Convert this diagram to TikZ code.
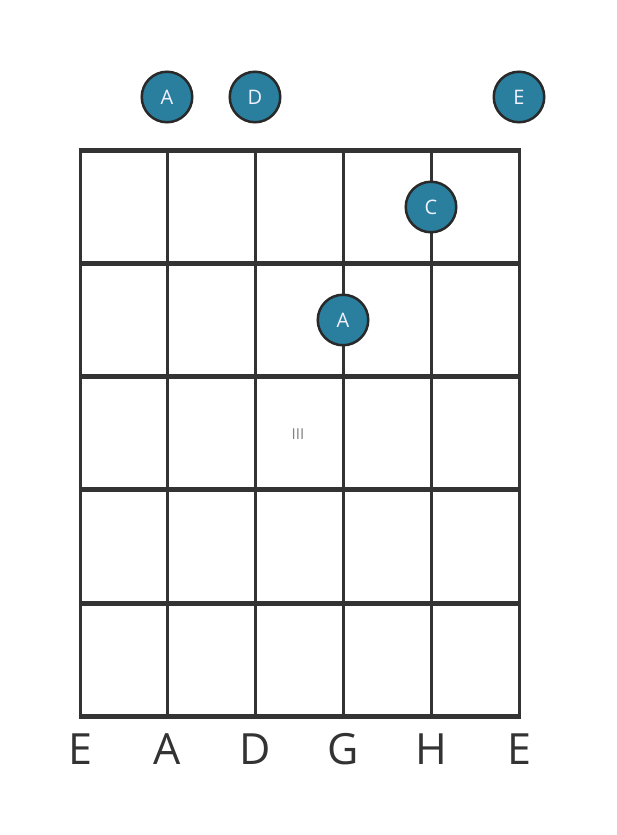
\documentclass[tikz,border=0pt]{standalone}
\usepackage{fontspec}
\setmainfont{Open Sans}
\definecolor{dotfill}{HTML}{2A7F9E}
\definecolor{linec}{HTML}{333333}
\begin{document}
\begin{tikzpicture}[x=1pt,y=-1pt,
  fret/.style={draw=linec,line width=5pt},
  stringline/.style={draw=linec,line width=3pt},
  dot/.style={circle,fill=dotfill,draw=linec!80!black,line width=2.5pt,minimum size=50.5pt,inner sep=0pt,text=white!95!blue,font=\fontsize{20}{20}\selectfont},
  strlabel/.style={text=linec,font=\fontsize{43}{43}\selectfont,inner sep=0pt,anchor=base},
  fretnum/.style={text=gray,font=\fontsize{15}{15}\selectfont,inner sep=0pt}]
\useasboundingbox (0,0) rectangle (617,835);
% strings
\foreach \i/\x in {1/80,2/167,3/255,4/343,5/431,6/519}{
  \coordinate (s\i t) at (\x,150);
  \coordinate (s\i b) at (\x,716);
  \draw[stringline] (s\i t) -- (s\i b);
}
% frets
\foreach \j/\y in {0/150,1/263,2/376,3/489,4/603,5/716}{
  \coordinate (f\j l) at (78.5,\y);
  \coordinate (f\j r) at (520.5,\y);
  \draw[fret] (f\j l) -- (f\j r);
}
\node[fretnum] (fn) at (298,434) {III};
% open string dots
\node[dot] (oA) at (167,97) {A};
\node[dot] (oD) at (255,97) {D};
\node[dot] (oE) at (519,97) {E};
% fretted dots
\node[dot] (dC) at (431,207) {C};
\node[dot] (dA) at (343,320) {A};
% string labels
\node[strlabel] (l1) at (80,764) {E};
\node[strlabel] (l2) at (167,764) {A};
\node[strlabel] (l3) at (255,764) {D};
\node[strlabel] (l4) at (343,764) {G};
\node[strlabel] (l5) at (431,764) {H};
\node[strlabel] (l6) at (519,764) {E};
\end{tikzpicture}
\end{document}
